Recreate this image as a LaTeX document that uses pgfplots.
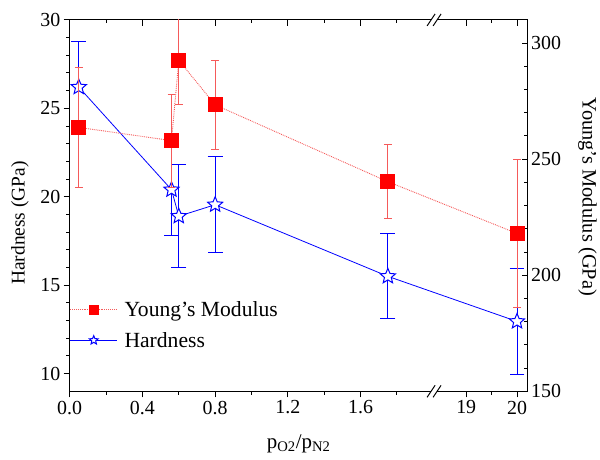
\documentclass[border=0pt]{standalone}
\usepackage{fontspec}
\setmainfont{Liberation Serif}
\usepackage{pgfplots}
\pgfplotsset{compat=1.18}
\definecolor{hblue}{RGB}{0,0,255}
\definecolor{yred}{RGB}{255,0,0}
\definecolor{yredl}{RGB}{245,90,90}

\pgfdeclareplotmark{ostar}{%
  \pgfpathmoveto{\pgfpointpolar{90}{\pgfplotmarksize}}%
  \pgfpathlineto{\pgfpointpolar{126}{0.45*\pgfplotmarksize}}%
  \pgfpathlineto{\pgfpointpolar{162}{\pgfplotmarksize}}%
  \pgfpathlineto{\pgfpointpolar{198}{0.45*\pgfplotmarksize}}%
  \pgfpathlineto{\pgfpointpolar{234}{\pgfplotmarksize}}%
  \pgfpathlineto{\pgfpointpolar{270}{0.45*\pgfplotmarksize}}%
  \pgfpathlineto{\pgfpointpolar{306}{\pgfplotmarksize}}%
  \pgfpathlineto{\pgfpointpolar{342}{0.45*\pgfplotmarksize}}%
  \pgfpathlineto{\pgfpointpolar{18}{\pgfplotmarksize}}%
  \pgfpathlineto{\pgfpointpolar{54}{0.45*\pgfplotmarksize}}%
  \pgfpathclose
  \pgfusepathqfillstroke
}

\pgfplotsset{
  brokenx/.style={
    scale only axis, width=460bp, height=373bp,
    x coord trafo/.code={\pgfmathparse{(##1>10)*(2.4603+(##1-20)*0.27945)+(##1<=10)*(##1)}},
    xmin=0, xmax=20.21,
    xtick={0,0.4,0.8,1.2,1.6,19,20},
    minor xtick={0.2,0.6,1.0,1.4,1.8,19.5},
    axis line style={black, line width=1bp},
    major tick style={black, line width=1bp},
    minor tick style={black, line width=1bp},
    major tick length=6bp, minor tick length=3.5bp,
    /pgf/number format/assume math mode=true,
    tick label style={font=\fontsize{20bp}{24bp}\selectfont},
  },
}

\pgfplotstableread{
x     h      he
0.05  26.2   2.6
0.56  20.4   2.6
0.6   18.9   2.9
0.8   19.55  2.7
1.75  15.5   2.4
20    12.95  3.0
}\hardness

\pgfplotstableread{
x     E      Ee
0.05  263.7  26
0.56  258    20
0.6   292.6  19
0.8   273.4  19
1.75  240.3  16
20    218    32
}\young

\begin{document}
\begin{tikzpicture}
% Hardness (left axis)
\begin{axis}[brokenx,
  ymin=9, ymax=30,
  ytick={10,15,20,25,30}, minor y tick num=4,
  xticklabels={0.0,0.4,0.8,1.2,1.6,19,20},
  xtick pos=bottom, ytick pos=left, tick align=outside,
  every axis y label/.style={at={(axis description cs:-0.1087,0.453)}, anchor=center, rotate=90, font=\fontsize{19.5bp}{23bp}\selectfont},
  ylabel={Hardness (GPa)},
  every axis x label/.style={at={(axis description cs:0.5,-0.153)}, anchor=base, font=\fontsize{21bp}{25bp}\selectfont},
  xlabel={p\textsubscript{O2}/p\textsubscript{N2}},
]
\addplot[draw=hblue, color=hblue, line width=0.8bp, mark=ostar, mark size=8bp,
  mark options={fill=white, draw=hblue, line width=1bp, solid},
  error bars/.cd, y dir=both, y explicit,
  error bar style={draw=hblue, color=hblue, line width=1bp, solid},
  error mark options={rotate=90, mark size=7.5bp, draw=hblue, color=hblue, line width=1bp, solid}]
table[x=x, y=h, y error=he] {\hardness};
\end{axis}
% Young's modulus (right axis)
\begin{axis}[brokenx,
  ymin=150, ymax=310,
  ytick={150,200,250,300}, minor y tick num=4,
  xticklabels={},
  xtick pos=top, ytick pos=right, yticklabel pos=right, tick align=inside,
  every axis y label/.style={at={(axis description cs:1.1304,0.524)}, anchor=center, rotate=-90, font=\fontsize{20.5bp}{24bp}\selectfont},
  ylabel={Young’s Modulus (GPa)},
  legend style={draw=none, fill=none, at={(axis description cs:0,0.1783)}, anchor=west,
    inner xsep=0pt, inner ysep=0pt, row sep=10bp,
    font=\fontsize{21.7bp}{25bp}\selectfont},
  legend cell align=left,
  legend image code/.code={\draw[mark repeat=2,mark phase=2,#1,mark size=4.6bp] plot coordinates {(0bp,0bp) (23.5bp,0bp) (47bp,0bp)};},
  legend style={/tikz/every odd column/.append style={column sep=5bp}},
]
\addplot[draw=yredl, densely dotted, line width=0.9bp, mark=square*, mark size=7bp,
  mark options={solid, fill=yred, draw=yred},
  error bars/.cd, y dir=both, y explicit,
  error bar style={draw=yredl, solid, line width=0.8bp},
  error mark options={rotate=90, mark size=4bp, draw=yredl, solid, line width=0.8bp}]
table[x=x, y=E, y error=Ee] {\young};
\addlegendentry{Young’s Modulus}
\addlegendimage{draw=hblue, line width=0.8bp, mark=ostar, mark options={fill=white, draw=hblue, line width=1bp, solid}}
\addlegendentry{Hardness}
\end{axis}
% axis break marks
\foreach \anc in {south west, north west}{
  \fill[white] ([xshift=363bp,yshift=-2bp]current axis.\anc) rectangle ([xshift=369bp,yshift=2bp]current axis.\anc);
  \draw[black, line width=1bp] ([xshift=359bp,yshift=-6bp]current axis.\anc) -- ([xshift=367bp,yshift=6bp]current axis.\anc);
  \draw[black, line width=1bp] ([xshift=365bp,yshift=-6bp]current axis.\anc) -- ([xshift=373bp,yshift=6bp]current axis.\anc);
}
\path ([xshift=-70bp,yshift=-69bp]current axis.south west) rectangle ([xshift=70bp,yshift=20bp]current axis.north east);
\end{tikzpicture}
\end{document}
